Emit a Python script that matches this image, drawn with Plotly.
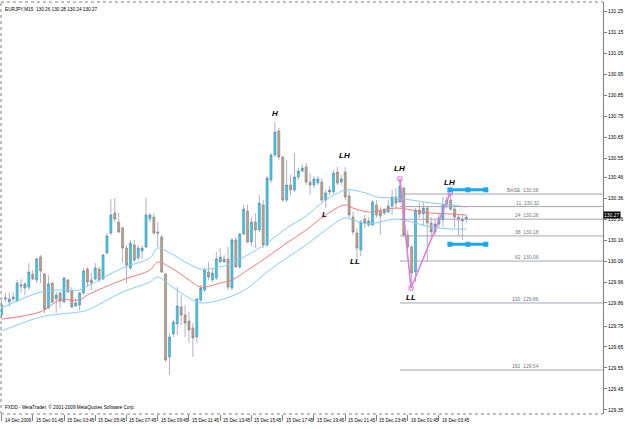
import plotly.graph_objects as go

# ---- candle data (EURJPY M15), bar index 0 = 14 Dec 23:45 ----
opens = [129.803, 129.879, 129.865, 129.879, 129.869, 129.946, 129.931, 129.936, 129.998, 129.970,
         130.079, 129.998, 129.836, 129.955, 129.879, 129.908, 129.865, 129.970, 129.917, 129.846,
         129.850, 129.908, 130.022, 129.970, 129.974, 130.022, 129.974, 130.098, 130.194, 130.289,
         130.246, 130.218, 130.122, 130.027, 130.137, 130.075, 130.108, 130.127, 130.261, 130.270,
         130.199, 130.175, 129.998, 129.602, 129.712, 129.760, 129.841, 129.803, 129.774, 129.741,
         129.698, 129.874, 129.922, 130.008, 129.970, 129.979, 130.056, 130.070, 130.070, 129.931,
         130.161, 130.032, 130.189, 130.299, 130.151, 130.246, 130.208, 130.328, 130.137, 130.447,
         130.566, 130.681, 130.557, 130.351, 130.423, 130.399, 130.461, 130.490, 130.509, 130.437,
         130.423, 130.433, 130.437, 130.351, 130.390, 130.390, 130.485, 130.437, 130.485, 130.371,
         130.270, 130.194, 130.113, 130.261, 130.232, 130.232, 130.328, 130.299, 130.289, 130.294,
         130.323, 130.366, 130.342, 130.409, 130.184, 130.127, 130.008, 130.304, 130.285, 130.313,
         130.242, 130.199, 130.237, 130.256, 130.328, 130.351, 130.308, 130.270, 130.251, 130.260]
highs = [129.874, 129.908, 129.908, 129.912, 129.970, 129.974, 129.960, 130.051, 130.017, 130.075,
         130.089, 130.003, 129.993, 129.960, 129.912, 129.912, 129.984, 129.974, 129.936, 129.884,
         129.912, 130.027, 130.032, 130.003, 130.051, 130.032, 130.094, 130.194, 130.356, 130.361,
         130.289, 130.223, 130.137, 130.161, 130.161, 130.137, 130.137, 130.361, 130.289, 130.289,
         130.246, 130.184, 130.003, 129.717, 129.779, 129.936, 129.898, 129.850, 129.817, 129.764,
         129.884, 129.946, 130.027, 130.056, 130.027, 130.103, 130.122, 130.089, 130.127, 130.170,
         130.175, 130.194, 130.328, 130.328, 130.270, 130.289, 130.375, 130.351, 130.466, 130.576,
         130.724, 130.695, 130.561, 130.542, 130.471, 130.576, 130.504, 130.523, 130.528, 130.480,
         130.466, 130.466, 130.456, 130.399, 130.418, 130.495, 130.509, 130.471, 130.509, 130.399,
         130.294, 130.218, 130.256, 130.280, 130.270, 130.351, 130.351, 130.318, 130.313, 130.351,
         130.399, 130.409, 130.452, 130.413, 130.208, 130.137, 130.313, 130.337, 130.342, 130.323,
         130.270, 130.261, 130.285, 130.366, 130.371, 130.385, 130.318, 130.280, 130.280, 130.280]
lows = [129.788, 129.865, 129.841, 129.869, 129.865, 129.908, 129.898, 129.922, 129.970, 129.955,
        129.955, 129.812, 129.831, 129.860, 129.812, 129.836, 129.860, 129.908, 129.836, 129.841,
        129.826, 129.898, 129.936, 129.922, 129.970, 129.960, 129.970, 130.094, 130.184, 130.246,
        130.194, 130.051, 129.955, 130.017, 130.056, 130.065, 130.070, 130.122, 130.246, 130.184,
        130.127, 130.003, 129.578, 129.516, 129.698, 129.707, 129.755, 129.698, 129.669, 129.602,
        129.669, 129.865, 129.912, 129.970, 129.960, 129.970, 130.051, 130.051, 129.922, 129.922,
        130.027, 130.022, 130.184, 130.146, 130.132, 130.122, 130.199, 130.122, 130.127, 130.433,
        130.557, 130.542, 130.342, 130.342, 130.375, 130.390, 130.447, 130.485, 130.423, 130.375,
        130.409, 130.423, 130.342, 130.313, 130.375, 130.380, 130.423, 130.423, 130.351, 130.266,
        130.184, 130.075, 130.084, 130.218, 130.223, 130.227, 130.266, 130.184, 130.280, 130.289,
        130.280, 130.313, 130.337, 130.175, 130.113, 129.931, 129.960, 130.266, 130.227, 130.056,
        130.175, 130.184, 130.218, 130.223, 130.313, 130.299, 130.218, 130.184, 130.161, 130.240]
closes = [129.850, 129.884, 129.879, 129.888, 129.955, 129.941, 129.951, 130.008, 129.974, 130.070,
          130.013, 129.831, 129.951, 129.865, 129.898, 129.869, 129.979, 129.912, 129.841, 129.860,
          129.908, 130.013, 129.960, 129.955, 130.027, 129.970, 130.089, 130.180, 130.280, 130.261,
          130.199, 130.122, 130.041, 130.146, 130.065, 130.122, 130.122, 130.280, 130.280, 130.194,
          130.194, 130.008, 129.588, 129.698, 129.769, 129.846, 129.803, 129.764, 129.731, 129.693,
          129.879, 129.931, 130.017, 129.984, 130.003, 130.070, 130.079, 130.056, 129.936, 130.161,
          130.032, 130.189, 130.308, 130.151, 130.246, 130.208, 130.337, 130.137, 130.456, 130.566,
          130.676, 130.557, 130.351, 130.423, 130.399, 130.461, 130.490, 130.504, 130.437, 130.423,
          130.452, 130.452, 130.351, 130.385, 130.399, 130.480, 130.433, 130.452, 130.366, 130.280,
          130.199, 130.122, 130.246, 130.242, 130.251, 130.342, 130.280, 130.275, 130.304, 130.323,
          130.366, 130.337, 130.418, 130.184, 130.127, 130.003, 130.304, 130.285, 130.313, 130.242,
          130.199, 130.237, 130.266, 130.328, 130.351, 130.308, 130.270, 130.256, 130.261, 130.270]

# ---- envelope / moving average lines, sampled at these bars ----
ma_bars = [0, 10, 15, 20, 22, 31, 38, 40, 43, 48, 51, 56, 59, 63, 68, 73, 78, 83, 88, 90, 94, 96, 101, 105, 110, 115, 119]
ma_mid = [129.783, 129.818, 129.874, 129.874, 129.898, 129.970, 130.017, 130.055, 130.032, 129.970,
          129.936, 129.955, 129.970, 130.017, 130.079, 130.146, 130.208, 130.280, 130.328, 130.313,
          130.294, 130.299, 130.313, 130.304, 130.289, 130.285, 130.280]
env_up = [129.836, 129.912, 129.922, 129.922, 129.940, 130.027, 130.075, 130.122, 130.100, 130.046,
          130.022, 130.032, 130.051, 130.089, 130.146, 130.218, 130.275, 130.351, 130.399, 130.399,
          130.380, 130.366, 130.361, 130.351, 130.337, 130.328, 130.318]
env_dn = [129.726, 129.793, 129.807, 129.817, 129.826, 129.912, 129.960, 129.984, 129.946, 129.884,
          129.860, 129.874, 129.893, 129.931, 130.008, 130.075, 130.137, 130.208, 130.266, 130.256,
          130.237, 130.242, 130.261, 130.246, 130.223, 130.213, 130.213]

# ---- axes text ----
time_bars = [0, 8, 16, 24, 32, 40, 48, 56, 64, 72, 80, 88, 96, 104, 112]
time_labels = ["14 Dec 2009", "15 Dec 01:45", "15 Dec 03:45", "15 Dec 05:45", "15 Dec 07:45",
               "15 Dec 09:45", "15 Dec 11:45", "15 Dec 13:45", "15 Dec 15:45", "15 Dec 17:45",
               "15 Dec 19:45", "15 Dec 21:45", "15 Dec 23:45", "16 Dec 01:45", "16 Dec 03:45"]
price_ticks = [131.25, 131.15, 131.05, 130.95, 130.85, 130.75, 130.65, 130.55, 130.46, 130.36,
               130.26, 130.16, 130.06, 129.96, 129.86, 129.75, 129.65, 129.55, 129.45, 129.35]
last_price = 130.27

# ---- Fibonacci retracement ----
fib_names = ["BASE", "11", "24", "38", "62", "100", "162"]
fib_levels = [130.38, 130.32, 130.26, 130.18, 130.06, 129.86, 129.54]
fib_start_bar = 102
fib_label_bar = 138

# ---- wave annotations ----
wave_bars = [102, 104.85, 114.9]
wave_prices = [130.452, 129.931, 130.385]
chan_bars = [114.8, 119.4, 124]
chan_top = 130.40
chan_bot = 130.14
label_texts = ["H", "LH", "L", "LL", "LH", "LH", "LL"]
label_bars = [69.9, 87.8, 82.7, 90.6, 102.0, 114.8, 104.8]
label_prices = [130.762, 130.566, 130.280, 130.056, 130.504, 130.437, 129.888]

bars = list(range(len(opens)))
FONT = "Liberation Sans"

fig = go.Figure()

fig.add_trace(go.Scatter(x=ma_bars, y=env_up, mode="lines", line=dict(color="#84cdf5", width=1, shape="spline"),
                         hoverinfo="skip"))
fig.add_trace(go.Scatter(x=ma_bars, y=ma_mid, mode="lines", line=dict(color="#ef7a7a", width=1, shape="spline"),
                         hoverinfo="skip"))
fig.add_trace(go.Scatter(x=ma_bars, y=env_dn, mode="lines", line=dict(color="#84cdf5", width=1, shape="spline"),
                         hoverinfo="skip"))

for lvl in fib_levels:
    fig.add_trace(go.Scatter(x=[fib_start_bar, 160], y=[lvl, lvl], mode="lines",
                             line=dict(color="#a4a4b4", width=1), hoverinfo="skip"))

fig.add_trace(go.Candlestick(
    x=bars, open=opens, high=highs, low=lows, close=closes,
    increasing=dict(line=dict(color="#7c7c9c", width=0.6), fillcolor="#16d8f4"),
    decreasing=dict(line=dict(color="#7c7c9c", width=0.6), fillcolor="#c4a474"),
    whiskerwidth=0, hoverinfo="skip"))

fig.add_trace(go.Scatter(x=wave_bars, y=wave_prices, mode="lines+markers",
                         line=dict(color="#e277e2", width=1.5),
                         marker=dict(symbol="square-open", size=4, color="#e277e2"), hoverinfo="skip"))

for lvl in (chan_top, chan_bot):
    fig.add_trace(go.Scatter(x=chan_bars, y=[lvl] * len(chan_bars), mode="lines+markers",
                             line=dict(color="#1aa9ee", width=3),
                             marker=dict(symbol="square", size=5, color="#1aa9ee"), hoverinfo="skip"))

ann = []
for name, lvl in zip(fib_names, fib_levels):
    ann.append(dict(x=fib_label_bar, y=lvl, xref="x", yref="y", text=f"{name}&nbsp;&nbsp;{lvl:.2f}",
                    showarrow=False, xanchor="right", yanchor="bottom", yshift=-1,
                    font=dict(family=FONT, size=5, color="#777777")))
for t, b in zip(time_labels, time_bars):
    ann.append(dict(x=b, y=0, xref="x", yref="paper", text=t, showarrow=False,
                    xanchor="left", yanchor="top", xshift=1, yshift=-2,
                    font=dict(family=FONT, size=4.6, color="#000000")))
for t, b, p in zip(label_texts, label_bars, label_prices):
    ann.append(dict(x=b, y=p, xref="x", yref="y", text=f"<b><i>{t}</i></b>", showarrow=False,
                    font=dict(family=FONT, size=8, color="#000000")))
ann.append(dict(x=0, y=1, xref="paper", yref="paper", text="EURJPY,M15  130.26 130.28 130.24 130.27",
                showarrow=False, xanchor="left", yanchor="top", xshift=2, yshift=-3,
                font=dict(family=FONT, size=4.7, color="#000000")))
ann.append(dict(x=0, y=0, xref="paper", yref="paper",
                text="FXDD - MetaTrader, © 2001-2009 MetaQuotes Software Corp.",
                showarrow=False, xanchor="left", yanchor="bottom", xshift=2, yshift=2,
                font=dict(family=FONT, size=4.7, color="#000000")))
ann.append(dict(x=1, y=last_price, xref="paper", yref="y", text=f"{last_price:.2f}", showarrow=False,
                xanchor="left", yanchor="middle", bgcolor="#000000", borderpad=0, yshift=2,
                font=dict(family=FONT, size=5, color="#ffffff")))

shapes = [
    dict(type="line", xref="paper", yref="paper", x0=0, x1=1, y0=1, y1=1,
         line=dict(color="#808080", width=1, dash="dot")),
    dict(type="line", xref="paper", yref="paper", x0=0, x1=1, y0=0, y1=0,
         line=dict(color="#808080", width=1, dash="dot")),
    dict(type="line", xref="paper", yref="paper", x0=0, x1=0, y0=0, y1=1,
         line=dict(color="#808080", width=1, dash="dot")),
]

fig.update_layout(
    width=625, height=429, margin=dict(l=1, r=19, t=2, b=15),
    paper_bgcolor="#ffffff", plot_bgcolor="#ffffff", showlegend=False,
    annotations=ann, shapes=shapes, boxgap=0.25,
    xaxis=dict(range=[-0.13, 154.0], showgrid=False, zeroline=False, showticklabels=False,
               tickvals=time_bars, ticks="outside", ticklen=6, tickcolor="#808080",
               rangeslider=dict(visible=False), fixedrange=True),
    yaxis=dict(range=[129.330, 131.2965], side="right", showgrid=False, zeroline=False,
               tickvals=price_ticks, ticktext=[f"{v:.2f}" for v in price_ticks],
               ticks="outside", ticklen=3, tickcolor="#808080", showline=True, linecolor="#808080",
               tickfont=dict(family=FONT, size=5, color="#000000"), fixedrange=True),
)

fig.write_html("out.html")
